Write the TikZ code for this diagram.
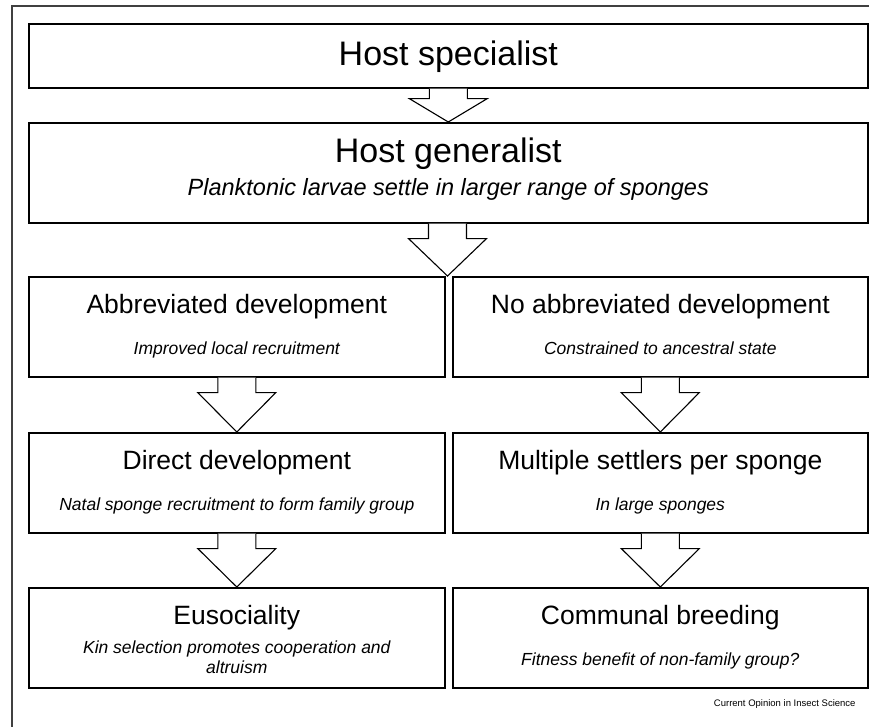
\documentclass[tikz,border=0pt]{standalone}
\usepackage{fontspec}
\setmainfont{Liberation Sans}
\usetikzlibrary{calc}

\newcommand{\flowarrow}[3]{%
    \draw [flowarr] let \p1 = (#1.south), \p2 = (#2) in
        (\x2-19pt,\y1) -- (\x2-19pt,\y1-#3) -- (\x2-39pt,\y1-#3) -- (\x2,\y2)
        -- (\x2+39pt,\y1-#3) -- (\x2+19pt,\y1-#3) -- (\x2+19pt,\y1);
}

\begin{document}
\begin{tikzpicture}[
    x=1pt, y=-1pt,
    frame/.style={draw=black!75, line width=1.4pt},
    bigbox/.style={draw, line width=1.6pt, anchor=north west, minimum width=839pt, inner sep=0pt},
    halfbox/.style={draw, line width=1.6pt, anchor=north west, minimum width=416pt, minimum height=100pt, inner sep=0pt},
    bigtitle/.style={anchor=base, font=\fontsize{34}{38}\selectfont},
    bigsub/.style={anchor=base, font=\fontsize{23.5}{27}\selectfont\itshape},
    boxtitle/.style={anchor=base, font=\fontsize{26.5}{30}\selectfont},
    boxsub/.style={anchor=base, font=\fontsize{17.5}{20.5}\selectfont\itshape},
    flowarr/.style={line width=1.1pt, fill=white},
    credit/.style={anchor=base east, font=\fontsize{9.5}{11}\selectfont}
    ]
    	\useasboundingbox (0,0) rectangle (869,727);
    	\draw [frame] (12,727) -- (12,6) -- (869,6);

    	\node [bigbox, minimum height=64pt] (spec) at (28,23) {};
    	\node [bigtitle] (specT) at ($(spec.north)+(0,43)$) {Host specialist};

    	\node [bigbox, minimum height=100pt] (gen) at (28,122) {};
    	\node [bigtitle] (genT) at ($(gen.north)+(0,41)$) {Host generalist};
    	\node [bigsub] (genS) at ($(gen.north)+(0,74)$) {Planktonic larvae settle in larger range of sponges};

    	\begin{scope}
    		\node [halfbox] (abbr) at (28,276) {};
    		\node [boxtitle] (abbrT) at ($(abbr.north)+(0,37)$) {Abbreviated development};
    		\node [boxsub] (abbrS) at ($(abbr.north)+(0,78)$) {Improved local recruitment};

    		\node [halfbox] (direct) at (28,432) {};
    		\node [boxtitle] (directT) at ($(direct.north)+(0,37)$) {Direct development};
    		\node [boxsub] (directS) at ($(direct.north)+(0,78)$) {Natal sponge recruitment to form family group};

    		\node [halfbox] (euso) at (28,587) {};
    		\node [boxtitle] (eusoT) at ($(euso.north)+(0,37)$) {Eusociality};
    		\node [boxsub, anchor=north, align=center, inner sep=0pt] (eusoS) at ($(euso.north)+(0,53.5)$) {Kin selection promotes cooperation and\\altruism};
    	\end{scope}

    	\begin{scope}
    		\node [halfbox, minimum width=415pt] (noabbr) at (452,276) {};
    		\node [boxtitle] (noabbrT) at ($(noabbr.north)+(0,37)$) {No abbreviated development};
    		\node [boxsub] (noabbrS) at ($(noabbr.north)+(0,78)$) {Constrained to ancestral state};

    		\node [halfbox, minimum width=415pt] (multi) at (452,432) {};
    		\node [boxtitle] (multiT) at ($(multi.north)+(0,37)$) {Multiple settlers per sponge};
    		\node [boxsub] (multiS) at ($(multi.north)+(0,78)$) {In large sponges};

    		\node [halfbox, minimum width=415pt] (comm) at (452,587) {};
    		\node [boxtitle] (commT) at ($(comm.north)+(0,37)$) {Communal breeding};
    		\node [boxsub] (commS) at ($(comm.north)+(0,78)$) {Fitness benefit of non-family group?};
    	\end{scope}

    	\coordinate (fork) at (447.5,276);

    	\flowarrow{spec}{gen.north}{10pt}
    	\flowarrow{gen}{fork}{15pt}
    	\flowarrow{abbr}{direct.north}{15pt}
    	\flowarrow{noabbr}{multi.north}{15pt}
    	\flowarrow{direct}{euso.north}{15pt}
    	\flowarrow{multi}{comm.north}{15pt}

    	\node [credit] (source) at (859,706) {Current Opinion in Insect Science};
\end{tikzpicture}
\end{document}
